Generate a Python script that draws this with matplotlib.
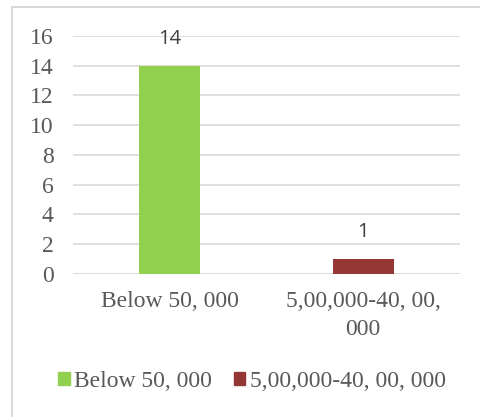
import matplotlib.pyplot as plt
from matplotlib.lines import Line2D
from matplotlib.patches import Patch

plt.rcParams['font.family'] = 'Liberation Serif'

categories = ['Below 50, 000', '5,00,000-40, 00,\n000']
series_names = ['Below 50, 000', '5,00,000-40, 00, 000']
values = [14, 1]
colors = ['#92D050', '#953735']
yticks = [0, 2, 4, 6, 8, 10, 12, 14, 16]

fig = plt.figure(figsize=(4.8, 4.17), dpi=100)
ax = fig.add_axes([0.152, 0.343, 0.806, 0.571])

x = range(len(categories))
for i in x:
    ax.bar(i, values[i], width=0.315, color=colors[i], zorder=3,
           label=series_names[i])
    ax.annotate(str(values[i]), (i, values[i]), xytext=(0, 12),
                textcoords='offset points', ha='center', va='bottom',
                fontsize=14.5, color='#404040', family='Open Sans')

ax.set_xlim(-0.5, 1.5)
ax.set_ylim(0, 16)
ax.set_yticks(yticks)
ax.set_xticks(list(x))
ax.set_xticklabels(categories, linespacing=1.45)
ax.yaxis.grid(True, color='#D9D9D9', linewidth=1.2, zorder=0)
ax.tick_params(axis='both', length=0, labelsize=17, colors='#595959')
ax.tick_params(axis='y', pad=14)
ax.tick_params(axis='x', pad=12)
for s in ax.spines.values():
    s.set_visible(False)
ax.axhline(0, color='#D9D9D9', linewidth=1.2, zorder=2)

handles = [Patch(color=c) for c in colors]
leg = fig.legend(handles, series_names, loc='center', ncol=2,
                 bbox_to_anchor=(0.525, 0.086), frameon=False,
                 handlelength=0.5, handleheight=0.5, handletextpad=0.2,
                 columnspacing=0.9, prop={'size': 17})
for t in leg.get_texts():
    t.set_color('#595959')

# outer chart border (top and left visible)
fig.add_artist(Line2D([0.025, 1.0], [0.983, 0.983], color='#D9D9D9',
                      linewidth=1.5, transform=fig.transFigure))
fig.add_artist(Line2D([0.025, 0.025], [0.0, 0.983], color='#D9D9D9',
                      linewidth=1.5, transform=fig.transFigure))

fig.savefig('out.png', dpi=100)
